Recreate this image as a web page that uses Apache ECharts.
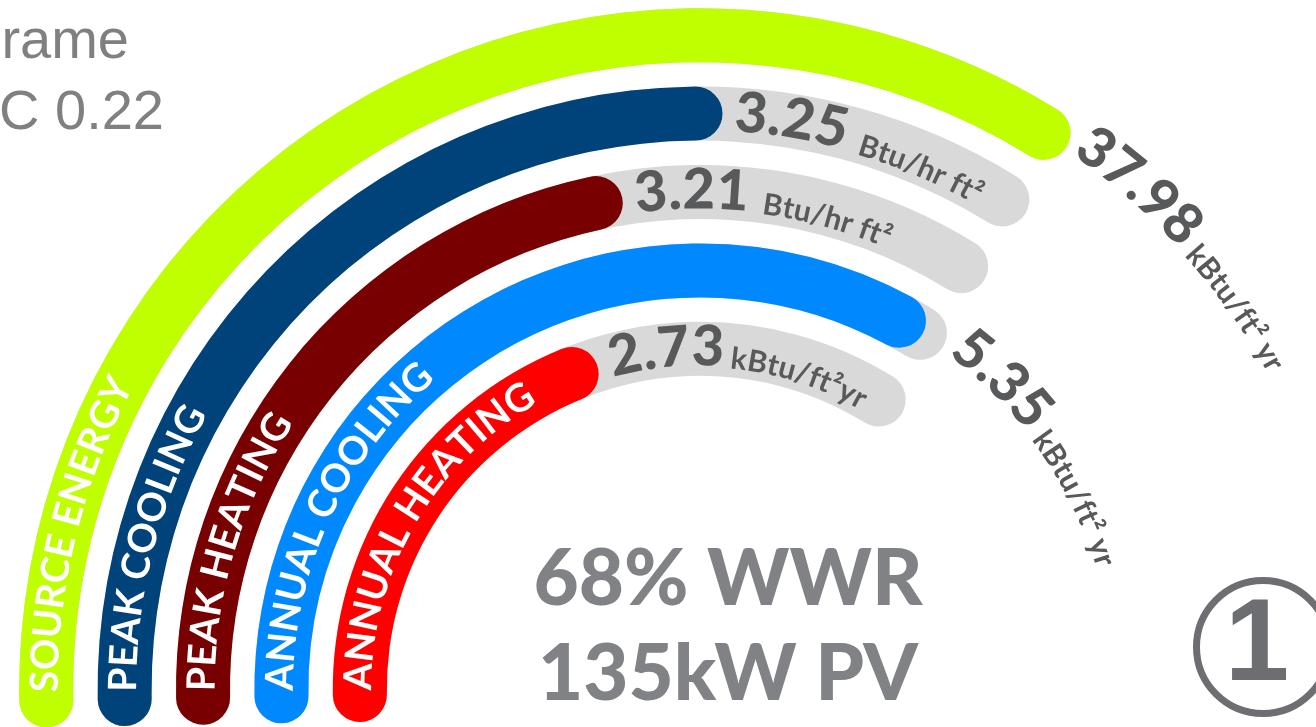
<!DOCTYPE html>
<html><head><meta charset="utf-8">
<script src="https://cdn.jsdelivr.net/npm/echarts@6/dist/echarts.min.js"></script>
<style>html,body{margin:0;padding:0;background:#fff;overflow:hidden}#c{width:1316px;height:727px}</style>
</head><body><div id="c"></div>
<script>
// ---------- data (outer ring first) ----------
const categories = ['SOURCE ENERGY', 'PEAK COOLING', 'PEAK HEATING', 'ANNUAL COOLING', 'ANNUAL HEATING'];
const valueLabels = ['37.98', '3.25', '3.21', '5.35', '2.73'];
const unitLabels = ['kBtu/ft\u00B2 yr', 'Btu/hr ft\u00B2', 'Btu/hr ft\u00B2', 'kBtu/ft\u00B2 yr', 'kBtu/ft\u00B2yr'];
const fillPct = [100, 73.8, 64.3, 97.3, 56.1];     // share of each gauge track that is filled
const trackPct = [100, 100, 100, 100, 100];
const barColors = ['#bfff00', '#00427a', '#780000', '#0088ff', '#ff0000'];
const titleLines = ['Triple glazing', 'Frame', 'SHGC 0.22'];
const centerLines = ['68% WWR', '135kW PV'];
const badgeText = '1';

// ---------- layout ----------
const CX = 700, CY = 689, R_IN = 301, R_OUT = 693, BAR_W = 54;
const START = 181, END = 58.3, SWEEP = START - END;
const AXIS_MAX = 100 * 360 / SWEEP;
const BAND = (R_OUT - R_IN) / categories.length;
const midR = i => R_OUT - BAND * (i + 0.5);
const angleOf = v => START - v / AXIS_MAX * 360;
const D2R = Math.PI / 180;

const NUM_FONT = 'Lato', NUM_SIZE = 56, UNIT_SIZE = 30, CAT_SIZE = 39;
const K_LATO = 0.387;
const VALUE_COLOR = '#58595b';

const mctx = document.createElement('canvas').getContext('2d');
const graphics = [];

function arcText(parts, startDeg, rb, fill) {
  let a = startDeg * D2R;
  parts.forEach(p => {
    const font = (p.weight || 'bold') + ' ' + p.size + 'px ' + p.family;
    mctx.font = font;
    if (p.gap) a -= p.gap / rb;
    for (const ch of p.text) {
      const w = mctx.measureText(ch).width;
      const ac = a - (w / 2) / rb;
      const rc = rb + p.size * p.k;
      graphics.push({
        type: 'text', x: CX + rc * Math.cos(ac), y: CY - rc * Math.sin(ac),
        rotation: ac - Math.PI / 2, z: 100, silent: true,
        style: { text: ch, font: font, fill: fill, align: 'center', verticalAlign: 'middle',
                 textAlign: 'center', textVerticalAlign: 'middle' }
      });
      a -= w / rb;
    }
  });
}

// category labels along the bars
categories.forEach((c, i) => {
  const rb = midR(i) - 0.36 * CAT_SIZE;
  arcText([{ text: c, size: CAT_SIZE, family: NUM_FONT, k: K_LATO }], 180.3, rb, '#ffffff');
});

// value labels
const unitGaps = [8, 14, 14, 8, 6];
categories.forEach((c, i) => {
  const m = midR(i);
  const outside = fillPct[i] >= 90;
  let rb, start;
  if (outside) {
    rb = m - 6;
    start = END - ((BAR_W / 2 + 8) / rb) / D2R;
  } else {
    rb = m - 0.36 * NUM_SIZE;
    start = angleOf(fillPct[i]) - ((BAR_W / 2 + 12) / m) / D2R;
  }
  arcText([
    { text: valueLabels[i], size: NUM_SIZE, family: NUM_FONT, k: K_LATO, weight: '900' },
    { text: unitLabels[i], size: UNIT_SIZE, family: NUM_FONT, k: K_LATO, gap: unitGaps[i] }
  ], start, rb, VALUE_COLOR);
});

// title (cut at left edge)
const titleRight = [311, 129, 164], titleBase = [-9, 62, 133];
titleLines.forEach((t, i) => {
  graphics.push({ type: 'text', x: titleRight[i], y: titleBase[i] - 0.347 * 56, z: 100, silent: true,
    style: { text: t, font: '56px "Liberation Sans"', fill: '#808083', align: 'right', verticalAlign: 'middle',
             textAlign: 'right', textVerticalAlign: 'middle' } });
});

// center text
const centerBase = [610, 705];
centerLines.forEach((t, i) => {
  graphics.push({ type: 'text', x: 728, y: centerBase[i] - K_LATO * 78, z: 100, silent: true,
    style: { text: t, font: '900 78px Lato', fill: '#808285', align: 'center', verticalAlign: 'middle',
             textAlign: 'center', textVerticalAlign: 'middle' } });
});

// badge
graphics.push({ type: 'circle', shape: { cx: 1263, cy: 647, r: 66.5 }, z: 100, silent: true,
  style: { fill: 'none', stroke: '#6d6e71', lineWidth: 7 } });
graphics.push({ type: 'text', x: 1257, y: 647 + 0.011 * 116, z: 100, silent: true,
  style: { text: badgeText, font: 'bold 116px "Liberation Sans"', fill: '#6d6e71', align: 'center', verticalAlign: 'middle',
           textAlign: 'center', textVerticalAlign: 'middle' } });

// ---------- chart (two identical polar systems: tracks and fills) ----------
const inner = categories.slice().reverse();
const fillData = fillPct.map((v, i) => ({ value: v, itemStyle: { color: barColors[i] } })).reverse();
const trackData = trackPct.slice().reverse();
const hidden = { axisLine: { show: false }, axisTick: { show: false }, axisLabel: { show: false }, splitLine: { show: false } };

const chart = echarts.init(document.getElementById('c'), null, { renderer: 'canvas' });
chart.setOption({
  animation: false,
  polar: [{ center: [CX, CY], radius: [R_IN, R_OUT] }, { center: [CX, CY], radius: [R_IN, R_OUT] }],
  angleAxis: [0, 1].map(p => Object.assign({ polarIndex: p, type: 'value', min: 0, max: AXIS_MAX,
    startAngle: START, clockwise: true }, hidden)),
  radiusAxis: [0, 1].map(p => Object.assign({ polarIndex: p, type: 'category', data: inner }, hidden)),
  series: [
    { type: 'bar', coordinateSystem: 'polar', polarIndex: 0, data: trackData, barWidth: BAR_W,
      roundCap: true, itemStyle: { color: '#d9d9d9' }, z: 1, silent: true },
    { type: 'bar', coordinateSystem: 'polar', polarIndex: 1, data: fillData, barWidth: BAR_W,
      roundCap: true, z: 2, silent: true }
  ],
  graphic: { elements: graphics }
});
</script>
</body></html>
